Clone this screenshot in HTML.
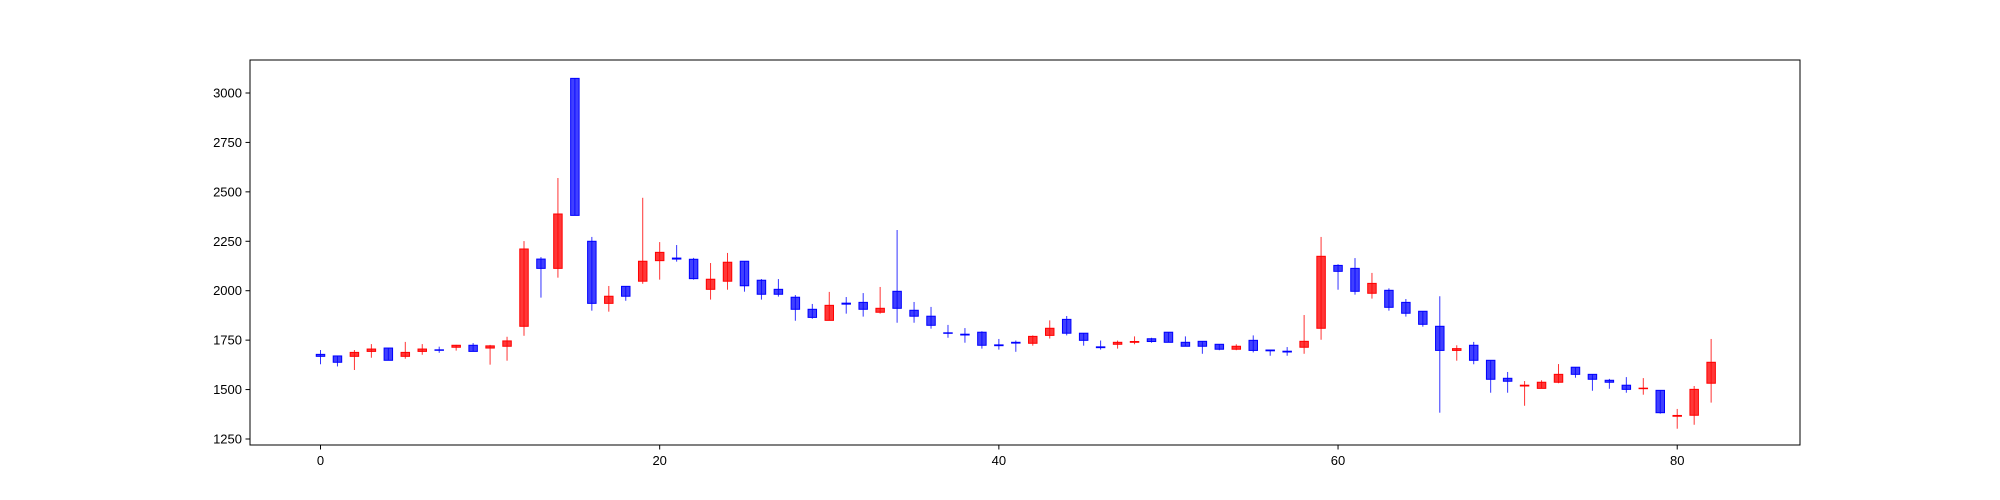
<!DOCTYPE html>
<html><head><meta charset="utf-8"><style>
html,body{margin:0;padding:0;background:#fff;}
svg{display:block;font-family:"Liberation Sans","DejaVu Sans",sans-serif;}
</style></head><body>
<svg id="chart" width="2000" height="500" xmlns="http://www.w3.org/2000/svg">
<rect x="0" y="0" width="2000" height="500" fill="#fff"/>
<g id="plot"></g>
<rect x="250" y="60" width="1550" height="385" fill="none" stroke="#000" stroke-width="1"/>
<g id="xaxis"></g>
<g id="yaxis"></g>
</svg>
<script>
const opens  = [1678,1670,1668,1693,1710,1668,1693,1701,1714,1724,1710,1719,1820,2160,2113,3074,2250,1936,2022,2048,2152,2165,2159,2007,2048,2149,2053,2007,1967,1906,1850,1937,1941,1891,1997,1901,1871,1787,1780,1790,1726,1739,1734,1774,1855,1785,1716,1729,1739,1757,1790,1739,1744,1729,1704,1749,1700,1694,1714,1810,2128,2113,1987,2002,1941,1896,1820,1698,1724,1648,1557,1518,1506,1537,1613,1577,1547,1522,1505,1496,1365,1370,1532];
const closes = [1668,1638,1688,1705,1648,1688,1705,1699,1724,1693,1721,1746,2211,2113,2388,2381,1936,1972,1972,2149,2194,2160,2061,2058,2144,2025,1982,1982,1906,1865,1926,1932,1906,1911,1911,1871,1825,1785,1776,1724,1722,1735,1769,1810,1785,1749,1712,1739,1743,1743,1739,1719,1719,1704,1719,1698,1696,1690,1744,2174,2098,1997,2037,1916,1886,1830,1698,1707,1648,1552,1542,1522,1537,1577,1577,1552,1537,1501,1507,1383,1369,1501,1638];
const highs  = [1700,1670,1700,1730,1710,1741,1730,1717,1726,1735,1726,1767,2251,2170,2570,3076,2272,2024,2022,2470,2246,2231,2166,2140,2191,2149,2059,2059,1978,1933,1994,1968,1988,2019,2307,1943,1918,1827,1811,1795,1756,1748,1774,1850,1872,1785,1748,1748,1769,1762,1790,1769,1744,1729,1729,1774,1700,1715,1877,2272,2134,2165,2090,2012,1958,1896,1972,1724,1741,1648,1589,1543,1547,1629,1613,1577,1554,1563,1558,1496,1402,1518,1756];
const lows   = [1628,1617,1599,1661,1648,1656,1676,1686,1697,1693,1626,1646,1772,1965,2066,2381,1899,1894,1949,2035,2056,2147,2056,1955,2005,1995,1955,1970,1848,1858,1850,1884,1869,1884,1838,1838,1808,1762,1737,1707,1702,1691,1722,1758,1774,1722,1702,1707,1729,1737,1739,1719,1681,1699,1699,1688,1671,1671,1681,1752,2005,1980,1960,1899,1869,1818,1383,1646,1628,1484,1484,1418,1506,1532,1560,1494,1504,1484,1474,1378,1302,1322,1434];
const xTicks = [0,20,40,60,80];
const yTicks = [1250,1500,1750,2000,2250,2500,2750,3000];

const NS="http://www.w3.org/2000/svg";
const X0=250,X1=1800,Y0=60,Y1=445;
const xmin=-4.157,xmax=87.24,ymin=1219.6,ymax=3166.9;
function sx(v){return X0+(v-xmin)/(xmax-xmin)*(X1-X0);}
function sy(v){return Y1-(v-ymin)/(ymax-ymin)*(Y1-Y0);}
function mk(tag,attrs,parent){const e=document.createElementNS(NS,tag);for(const k in attrs)e.setAttribute(k,attrs[k]);parent.appendChild(e);return e;}
const plot=document.getElementById('plot');
const bw=0.5;
for(let i=0;i<opens.length;i++){
  const up=closes[i]>=opens[i];
  const col=up?'#ff0000':'#0000ff';
  const fill=up?'rgba(255,0,0,0.78)':'rgba(0,0,255,0.75)';
  const g=mk('g',{},plot);
  
  
  const w=mk('line',{x1:sx(i),x2:sx(i),y1:sy(highs[i]),y2:sy(lows[i]),stroke:col,'stroke-width':1,'stroke-opacity':0.8},g);
  
  
  const top=Math.max(opens[i],closes[i]),bot=Math.min(opens[i],closes[i]);
  const h=Math.max(sy(bot)-sy(top),0.5);
  const r=mk('rect',{x:sx(i-bw/2),y:sy(top),width:sx(bw)-sx(0),height:h,fill:fill,stroke:col,'stroke-width':1},g);
  
  
}
const xa=document.getElementById('xaxis');
xTicks.forEach(t=>{
  const x=sx(t);
  const l=mk('line',{x1:x,x2:x,y1:Y1,y2:Y1+4.5,stroke:'#000','stroke-width':1},xa);
  
  
  const tx=mk('text',{x:x,y:Y1+20,'font-size':13,'text-anchor':'middle',fill:'#000'},xa);
  tx.textContent=t;
  
  
});
const ya=document.getElementById('yaxis');
yTicks.forEach(t=>{
  const y=sy(t);
  const l=mk('line',{x1:X0-4.5,x2:X0,y1:y,y2:y,stroke:'#000','stroke-width':1},ya);
  
  
  const tx=mk('text',{x:X0-8,y:y+4.5,'font-size':13,'text-anchor':'end',fill:'#000'},ya);
  tx.textContent=t;
  
  
});
</script>
</body></html>
